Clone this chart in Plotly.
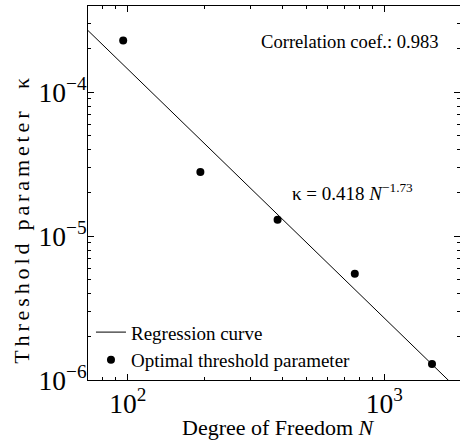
import numpy as np
import plotly.graph_objects as go

# Degrees of freedom and optimal threshold parameters
dof = [96, 192, 384, 768, 1536]
kappa_opt = [2.29e-4, 2.79e-5, 1.30e-5, 5.47e-6, 1.29e-6]

# Power-law regression: kappa = a * N^b
coef_a = 0.418
coef_b = -1.73
corr_coef = 0.983

x_range = [70, 1975]
y_range = [1e-6, 3.98e-4]

n_fit = np.logspace(np.log10(x_range[0]), np.log10(x_range[1]), 200)
k_fit = coef_a * n_fit ** coef_b


def minor_ticks(lo, hi):
    """Values 2..9 x 10^k that fall strictly inside (lo, hi)."""
    vals = []
    for k in range(int(np.floor(np.log10(lo))), int(np.ceil(np.log10(hi))) + 1):
        for m in range(2, 10):
            v = m * 10.0 ** k
            if lo * 1.001 < v < hi * 0.999:
                vals.append(v)
    return vals


FONT = "Liberation Serif"
BLACK = "black"

fig = go.Figure()
fig.add_trace(go.Scatter(
    x=n_fit, y=k_fit, mode="lines", name="Regression curve",
    line=dict(color=BLACK, width=1),
))
fig.add_trace(go.Scatter(
    x=dof, y=kappa_opt, mode="markers", name="Optimal threshold parameter",
    marker=dict(color=BLACK, size=8, symbol="circle"),
))
# empty trace that carries the overlay axes used for the minor ticks
fig.add_trace(go.Scatter(x=[], y=[], xaxis="x2", yaxis="y2", showlegend=False,
                         hoverinfo="skip"))

fig.add_annotation(
    x=0.949, y=0.906, xref="paper", yref="paper", xanchor="right", yanchor="middle",
    text=f"Correlation coef.: {corr_coef:.3f}", showarrow=False,
    font=dict(family=FONT, size=18.6, color=BLACK),
)
fig.add_annotation(
    x=0.712, y=0.503, xref="paper", yref="paper", xanchor="center", yanchor="middle",
    text=f"κ = {coef_a} <i>N</i><sup>{coef_b:.2f}</sup>".replace("-", "−"),
    showarrow=False,
    font=dict(family=FONT, size=19, color=BLACK),
)
# axis titles
fig.add_annotation(
    x=0.513, y=-0.128, xref="paper", yref="paper", xanchor="center", yanchor="middle",
    text="Degree of Freedom <i>N</i>", showarrow=False,
    font=dict(family=FONT, size=22, color=BLACK),
)
fig.add_annotation(
    x=-0.18, y=0.43, xref="paper", yref="paper", xanchor="center", yanchor="middle",
    text="Threshold parameter\u00a0 κ", textangle=-90, showarrow=False,
    font=dict(family=FONT, size=22, color=BLACK),
)

major = dict(
    type="log", showline=True, linecolor=BLACK, linewidth=1,
    mirror="allticks", ticks="inside", ticklen=6, tickwidth=1, tickcolor=BLACK,
    showgrid=False, zeroline=False, dtick=1, exponentformat="power",
    tickfont=dict(family=FONT, size=22, color=BLACK),
)
minor = dict(
    type="log", showline=True, linecolor=BLACK, linewidth=1,
    mirror="allticks", ticks="inside", ticklen=3, tickwidth=1, tickcolor=BLACK,
    showgrid=False, zeroline=False, showticklabels=False, tickmode="array",
)

xr = [np.log10(x_range[0]), np.log10(x_range[1])]
yr = [np.log10(y_range[0]), np.log10(y_range[1])]

fig.update_layout(
    xaxis=dict(**major, range=xr),
    yaxis=dict(**major, range=yr, ticklabelstandoff=-4),
    xaxis2=dict(**minor, range=xr, overlaying="x", anchor="y2",
                tickvals=minor_ticks(*x_range)),
    yaxis2=dict(**minor, range=yr, overlaying="y", anchor="x2",
                tickvals=minor_ticks(*y_range)),
    width=460, height=448,
    margin=dict(l=88, r=0, t=6, b=68),
    plot_bgcolor="white", paper_bgcolor="white",
    font=dict(family=FONT, color=BLACK),
    showlegend=True,
    legend=dict(
        x=0.008, y=0.002, xanchor="left", yanchor="bottom",
        bgcolor="rgba(0,0,0,0)", font=dict(family=FONT, size=19, color=BLACK),
        itemwidth=30, tracegroupgap=0,
    ),
)

# spread the vertical axis title out along its length
stretch_title = """
document.querySelectorAll('text').forEach(function (t) {
  if (t.textContent.indexOf('Threshold') === 0) {
    var n = t.textContent.length;
    var len = t.getComputedTextLength();
    var s = (286 - len) / (n - 1);
    if (s > 0) { t.style.letterSpacing = s + 'px'; }
  }
});
"""

fig.write_html("out.html", post_script=stretch_title)
